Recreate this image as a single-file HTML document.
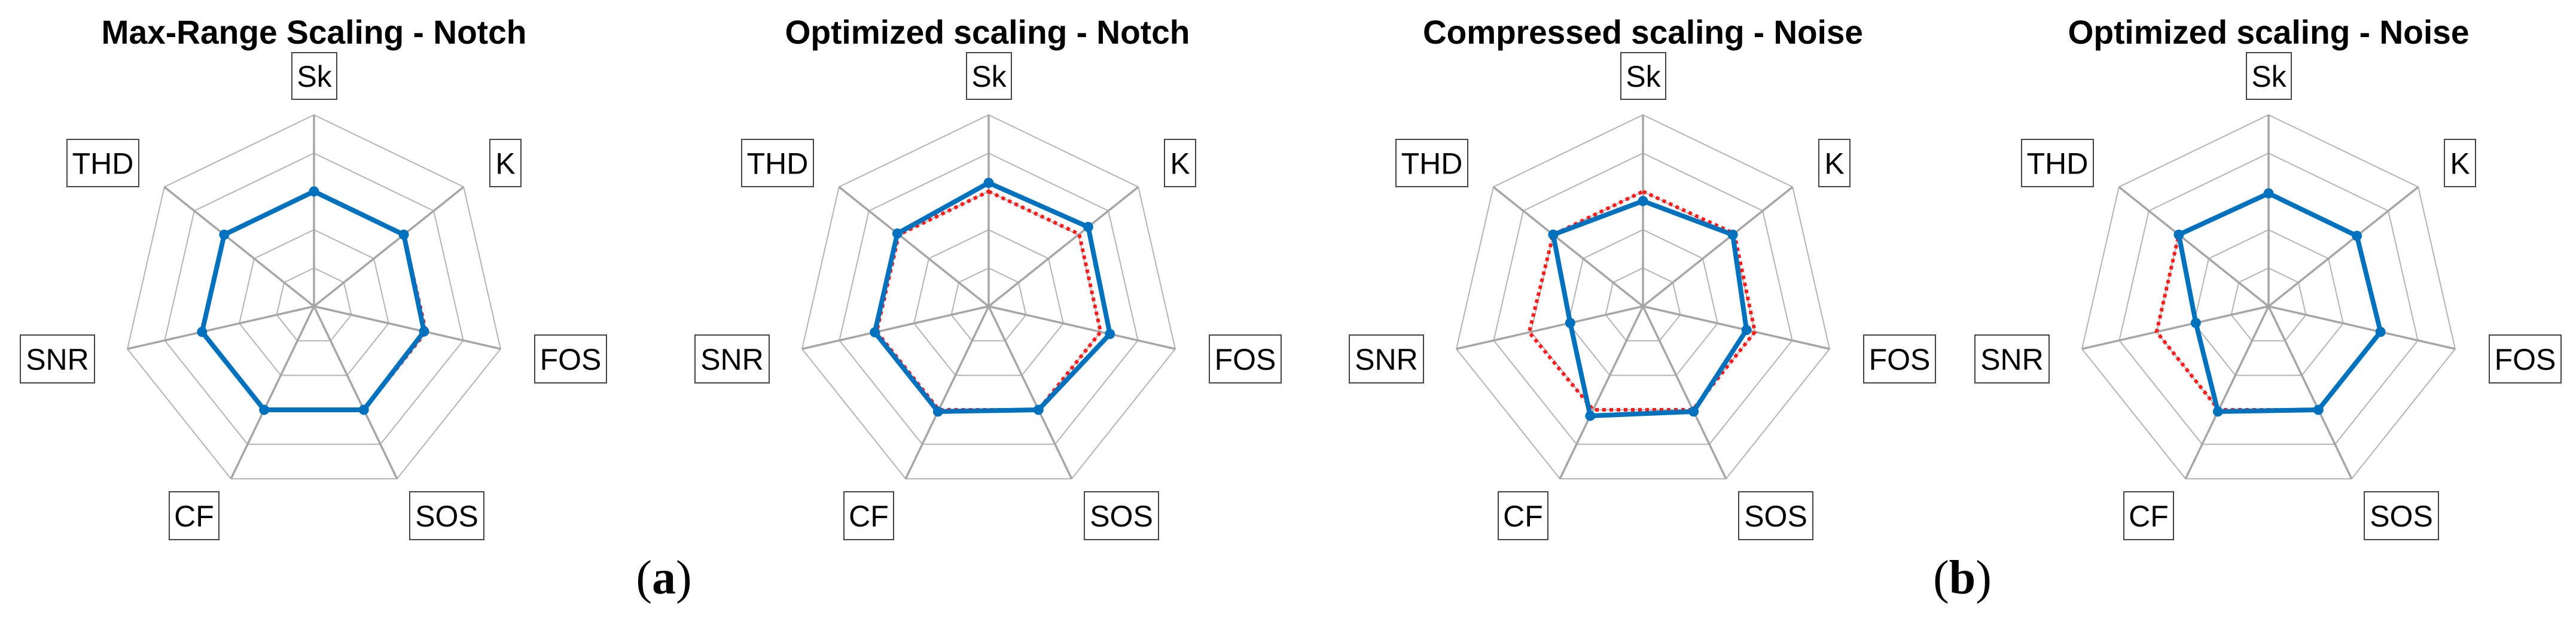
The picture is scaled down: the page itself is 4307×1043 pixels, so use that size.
<!DOCTYPE html>
<html><head><meta charset="utf-8"><style>
html,body{margin:0;padding:0;background:#fff;}
svg{display:block;}
.t{font-family:"Liberation Sans",Arial,sans-serif;font-weight:bold;font-size:56px;fill:#000;text-anchor:middle;}
.l{font-family:"Liberation Sans",Arial,sans-serif;font-size:50px;fill:#000;text-anchor:middle;}
.b{fill:#fff;stroke:#444;stroke-width:2;}
.p{font-family:"Liberation Serif","Times New Roman",serif;font-size:80px;fill:#000;text-anchor:middle;}
</style></head><body>
<svg id="s" width="4307" height="1043" viewBox="0 0 4307 1043" xmlns="http://www.w3.org/2000/svg">
<rect width="4307" height="1043" fill="#fff"/>
<g id="grids"></g>
<text class="t" x="525" y="73" textLength="711" lengthAdjust="spacingAndGlyphs">Max-Range Scaling - Notch</text>
<text class="t" x="1651" y="73" textLength="677" lengthAdjust="spacingAndGlyphs">Optimized scaling - Notch</text>
<text class="t" x="2747" y="73" textLength="736" lengthAdjust="spacingAndGlyphs">Compressed scaling - Noise</text>
<text class="t" x="3793" y="73" textLength="671" lengthAdjust="spacingAndGlyphs">Optimized scaling - Noise</text>
<g id="labels"></g>
<text class="p" x="1110" y="992"><tspan>(</tspan><tspan font-weight="bold">a</tspan><tspan>)</tspan></text>
<text class="p" x="3281" y="992"><tspan>(</tspan><tspan font-weight="bold">b</tspan><tspan>)</tspan></text>
</svg>
<div style="display:none">
<span>Sk</span><span>K</span><span>FOS</span><span>SOS</span><span>CF</span><span>SNR</span><span>THD</span>
</div>
<script>
var NS="http://www.w3.org/2000/svg";
var grids=document.getElementById("grids"), labels=document.getElementById("labels");
var centers=[525,1653,2747,3793], CY=512, R=320;
var names=["Sk","K","FOS","SOS","CF","SNR","THD"];
var boxes=[[-37,88,75,78],[294,233,52,79],[369,560,120,80],[160,822,124,80],[-242,822,83,80],[-491,560,124,80],[-413,233,120,79]];
var blue=[[0.6,0.6,0.59,0.6,0.6,0.6,0.6],[0.645,0.665,0.65,0.6,0.61,0.61,0.61],[0.55,0.6,0.555,0.61,0.635,0.39,0.6],[0.59,0.59,0.6,0.6,0.61,0.39,0.6]];
var red=[[0.6,0.6,0.6,0.6,0.6,0.6,0.6],[0.6,0.605,0.6,0.6,0.6,0.6,0.6],[0.6,0.61,0.6,0.6,0.6,0.61,0.6],[0.59,0.59,0.6,0.6,0.6,0.6,0.6]];
function pt(cx,i,r){var a=i*2*Math.PI/7;return [cx+r*Math.sin(a),CY-r*Math.cos(a)];}
function el(n,at,par){var e=document.createElementNS(NS,n);for(var k in at)e.setAttribute(k,at[k]);par.appendChild(e);return e;}
centers.forEach(function(cx,c){
  for(var k=1;k<=5;k++){var ps=[];for(var i=0;i<7;i++)ps.push(pt(cx,i,R*k/5).join(","));
    el("polygon",{points:ps.join(" "),fill:"none",stroke:"#b4b4b4","stroke-width":2},grids);}
  for(var i=0;i<7;i++){var p=pt(cx,i,R);el("line",{x1:cx,y1:CY,x2:p[0],y2:p[1],stroke:"#a6a6a6","stroke-width":3.5},grids);}
  var rp=[];for(var i=0;i<7;i++)rp.push(pt(cx,i,R*red[c][i]).join(","));
  var bp=[];for(var i=0;i<7;i++)bp.push(pt(cx,i,R*blue[c][i]));
  el("polygon",{points:rp.join(" "),fill:"none",stroke:"#ff1a1a","stroke-width":6,"stroke-dasharray":"6 6"},grids);
  el("polygon",{points:bp.map(function(q){return q.join(",")}).join(" "),fill:"none",stroke:"#0072BD","stroke-width":8,"stroke-linejoin":"round"},grids);
  bp.forEach(function(q){el("circle",{cx:q[0],cy:q[1],r:8.5,fill:"#0072BD"},grids);});
  for(var i=0;i<7;i++){var b=boxes[i];
    el("rect",{x:cx+b[0],y:b[1],width:b[2],height:b[3],"class":"b"},labels);
    var t=el("text",{x:cx+b[0]+b[2]/2,y:b[1]+b[3]/2+18,"class":"l"},labels);t.textContent=names[i];}
});
</script>
</body></html>
